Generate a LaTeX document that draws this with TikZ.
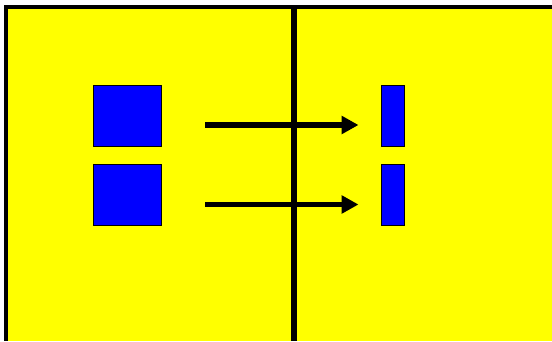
\documentclass[tikz,border=0pt]{standalone}
\usetikzlibrary{arrows.meta}
\definecolor{bgyellow}{RGB}{255,255,0}
\definecolor{boxblue}{RGB}{0,0,255}
\tikzset{
  bluebox/.style={draw=black, line width=0.8pt, fill=boxblue, inner sep=0pt, minimum width=68pt, minimum height=61pt},
  thinbox/.style={draw=black, line width=0.8pt, fill=boxblue, inner sep=0pt, minimum width=23pt, minimum height=61pt},
  bigarrow/.style={line width=5.5pt, -{Triangle[length=17pt,width=17.5pt]}}
}
\begin{document}
\begin{tikzpicture}[x=1pt,y=-1pt]
\useasboundingbox (0,0) rectangle (552,341);
\fill[white] (0,0) rectangle (552,341);
\fill[bgyellow] (8,9) rectangle (552,341);
% border (top and left)
\fill[black] (4,5) rectangle (552,9);
\fill[black] (4,5) rectangle (8,341);
% vertical divider
\fill[black] (291,5) rectangle (297,341);
% boxes
\node[bluebox] (b1) at (127.3,115.5) {};
\node[bluebox] (b2) at (127.3,194.5) {};
\node[thinbox] (r1) at (392.5,115.5) {};
\node[thinbox] (r2) at (392.5,194.5) {};
% arrows
\coordinate (s1) at (205,125);
\coordinate (s2) at (205,204.5);
\coordinate (e1) at (358.5,125);
\coordinate (e2) at (358.5,204.5);
\draw[bigarrow] (s1) -- (e1);
\draw[bigarrow] (s2) -- (e2);
\end{tikzpicture}
\end{document}
